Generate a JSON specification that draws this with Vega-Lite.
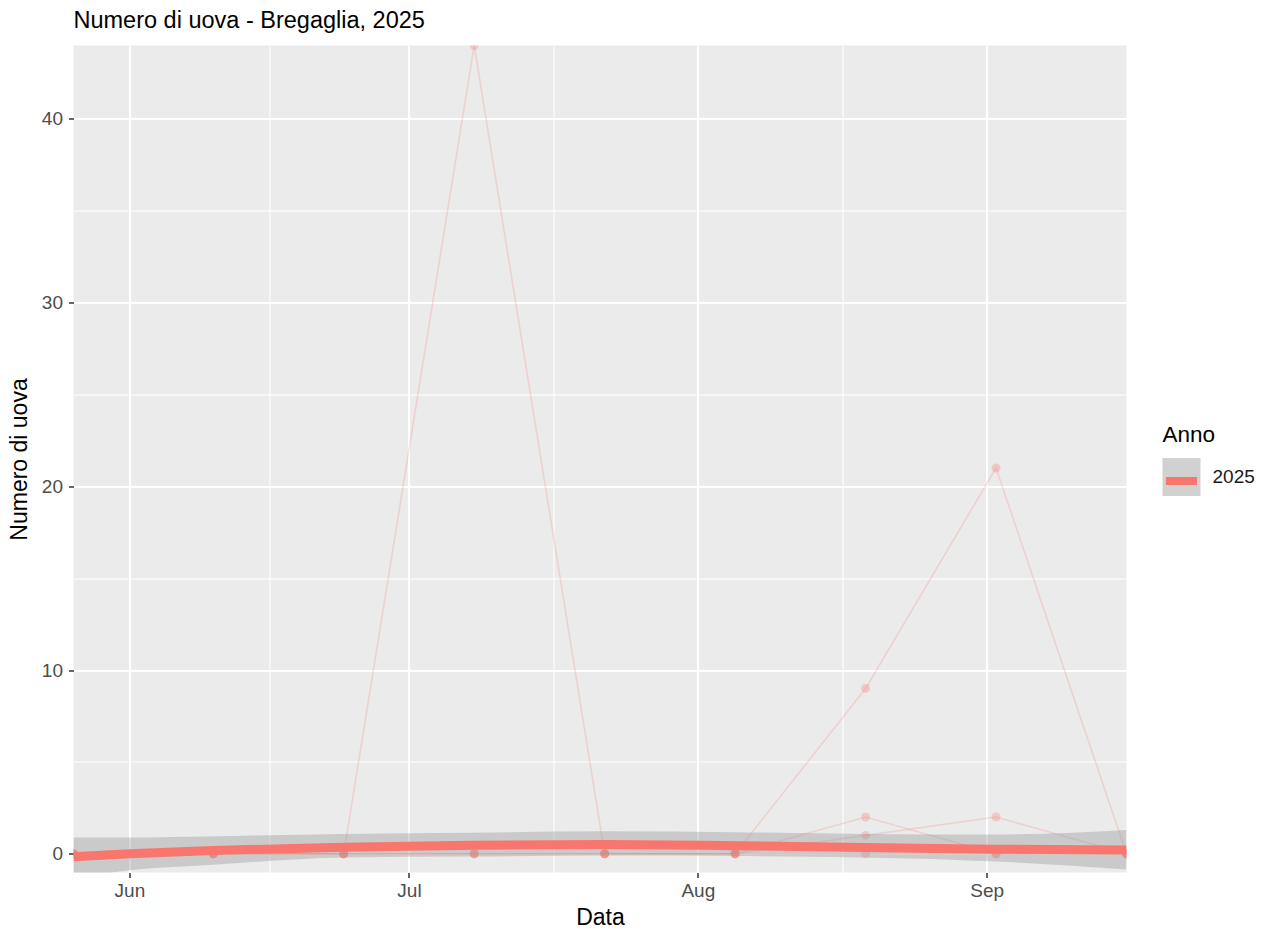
{
  "$schema": "https://vega.github.io/schema/vega-lite/v6.json",
  "width": 1053,
  "height": 827,
  "padding": {"left": 7.5, "top": 8.5, "right": 5, "bottom": 5},
  "background": "white",
  "title": {"text": "Numero di uova - Bregaglia, 2025", "anchor": "start", "frame": "group", "font": "Liberation Sans", "fontSize": 23.5, "fontWeight": "normal", "color": "black", "offset": 13},
  "config": {
    "view": {"fill": "#EBEBEB", "stroke": null},
    "font": "Liberation Sans",
    "axis": {"gridColor": "white", "gridWidth": 2, "gridOpacity": 1, "domain": false, "tickColor": "#333333", "tickSize": 5, "tickWidth": 1.5, "labelColor": "#4D4D4D", "labelFontSize": 19, "labelFont": "Liberation Sans", "titleFontSize": 23, "titleColor": "black", "titleFontWeight": "normal", "titleFont": "Liberation Sans"}
  },
  "datasets": {
    "obs": [
      {"Data": "2025-05-26", "Trappola": "A", "Uova": 0, "Anno": "2025"},
      {"Data": "2025-06-10", "Trappola": "A", "Uova": 0, "Anno": "2025"},
      {"Data": "2025-06-24", "Trappola": "A", "Uova": 0, "Anno": "2025"},
      {"Data": "2025-07-08", "Trappola": "A", "Uova": 44, "Anno": "2025"},
      {"Data": "2025-07-22", "Trappola": "A", "Uova": 0, "Anno": "2025"},
      {"Data": "2025-08-05", "Trappola": "A", "Uova": 0, "Anno": "2025"},
      {"Data": "2025-08-19", "Trappola": "A", "Uova": 0, "Anno": "2025"},
      {"Data": "2025-09-02", "Trappola": "A", "Uova": 0, "Anno": "2025"},
      {"Data": "2025-09-16", "Trappola": "A", "Uova": 0, "Anno": "2025"},
      {"Data": "2025-05-26", "Trappola": "B", "Uova": 0, "Anno": "2025"},
      {"Data": "2025-06-10", "Trappola": "B", "Uova": 0, "Anno": "2025"},
      {"Data": "2025-06-24", "Trappola": "B", "Uova": 0, "Anno": "2025"},
      {"Data": "2025-07-08", "Trappola": "B", "Uova": 0, "Anno": "2025"},
      {"Data": "2025-07-22", "Trappola": "B", "Uova": 0, "Anno": "2025"},
      {"Data": "2025-08-05", "Trappola": "B", "Uova": 0, "Anno": "2025"},
      {"Data": "2025-08-19", "Trappola": "B", "Uova": 9, "Anno": "2025"},
      {"Data": "2025-09-02", "Trappola": "B", "Uova": 21, "Anno": "2025"},
      {"Data": "2025-09-16", "Trappola": "B", "Uova": 0, "Anno": "2025"},
      {"Data": "2025-05-26", "Trappola": "C", "Uova": 0, "Anno": "2025"},
      {"Data": "2025-06-10", "Trappola": "C", "Uova": 0, "Anno": "2025"},
      {"Data": "2025-06-24", "Trappola": "C", "Uova": 0, "Anno": "2025"},
      {"Data": "2025-07-08", "Trappola": "C", "Uova": 0, "Anno": "2025"},
      {"Data": "2025-07-22", "Trappola": "C", "Uova": 0, "Anno": "2025"},
      {"Data": "2025-08-05", "Trappola": "C", "Uova": 0, "Anno": "2025"},
      {"Data": "2025-08-19", "Trappola": "C", "Uova": 2, "Anno": "2025"},
      {"Data": "2025-09-02", "Trappola": "C", "Uova": 0, "Anno": "2025"},
      {"Data": "2025-09-16", "Trappola": "C", "Uova": 0, "Anno": "2025"},
      {"Data": "2025-05-26", "Trappola": "D", "Uova": 0, "Anno": "2025"},
      {"Data": "2025-06-10", "Trappola": "D", "Uova": 0, "Anno": "2025"},
      {"Data": "2025-06-24", "Trappola": "D", "Uova": 0, "Anno": "2025"},
      {"Data": "2025-07-08", "Trappola": "D", "Uova": 0, "Anno": "2025"},
      {"Data": "2025-07-22", "Trappola": "D", "Uova": 0, "Anno": "2025"},
      {"Data": "2025-08-05", "Trappola": "D", "Uova": 0, "Anno": "2025"},
      {"Data": "2025-08-19", "Trappola": "D", "Uova": 1, "Anno": "2025"},
      {"Data": "2025-09-02", "Trappola": "D", "Uova": 2, "Anno": "2025"},
      {"Data": "2025-09-16", "Trappola": "D", "Uova": 0, "Anno": "2025"}
    ],
    "smooth": [
      {"Data": "2025-05-26", "fit": -0.16, "lo": -1.35, "hi": 0.89, "Anno": "2025"},
      {"Data": "2025-06-01", "fit": 0.0, "lo": -0.9, "hi": 0.88, "Anno": "2025"},
      {"Data": "2025-06-10", "fit": 0.18, "lo": -0.6, "hi": 0.95, "Anno": "2025"},
      {"Data": "2025-06-24", "fit": 0.36, "lo": -0.2, "hi": 1.08, "Anno": "2025"},
      {"Data": "2025-07-08", "fit": 0.47, "lo": -0.15, "hi": 1.15, "Anno": "2025"},
      {"Data": "2025-07-22", "fit": 0.5, "lo": -0.1, "hi": 1.22, "Anno": "2025"},
      {"Data": "2025-08-05", "fit": 0.44, "lo": -0.12, "hi": 1.17, "Anno": "2025"},
      {"Data": "2025-08-19", "fit": 0.34, "lo": -0.2, "hi": 1.08, "Anno": "2025"},
      {"Data": "2025-09-02", "fit": 0.25, "lo": -0.42, "hi": 1.05, "Anno": "2025"},
      {"Data": "2025-09-16", "fit": 0.2, "lo": -0.85, "hi": 1.3, "Anno": "2025"}
    ]
  },
  "resolve": {"axis": {"x": "independent", "y": "independent"}},
  "layer": [
    {
      "data": {"name": "obs"},
      "mark": {"type": "line", "color": "#F8766D", "opacity": 0.22, "strokeWidth": 1.6, "clip": true},
      "encoding": {
        "x": {"field": "Data", "type": "temporal",
          "scale": {"type": "utc", "domain": [{"year": 2025, "month": 5, "date": 26, "utc": true}, {"year": 2025, "month": 9, "date": 16, "utc": true}]},
          "axis": {"orient": "bottom", "title": null, "labels": false, "ticks": false, "domain": false, "grid": true, "gridWidth": 1,
            "values": [{"year": 2025, "month": 6, "date": 16, "utc": true}, {"year": 2025, "month": 7, "date": 16, "hours": 12, "utc": true}, {"year": 2025, "month": 8, "date": 16, "hours": 12, "utc": true}]}},
        "y": {"field": "Uova", "type": "quantitative",
          "scale": {"domain": [-1.02, 44], "nice": false, "zero": false},
          "axis": {"orient": "left", "title": null, "labels": false, "ticks": false, "domain": false, "grid": true, "gridWidth": 1, "values": [5, 15, 25, 35]}},
        "detail": {"field": "Trappola", "type": "nominal"}
      }
    },
    {
      "data": {"name": "obs"},
      "mark": {"type": "circle", "color": "#F8766D", "opacity": 0.3, "size": 80, "clip": true},
      "encoding": {
        "x": {"field": "Data", "type": "temporal",
          "axis": {"orient": "bottom", "title": "Data", "format": "%b", "grid": true, "gridWidth": 2, "labelPadding": 4, "titlePadding": 6,
            "values": [{"year": 2025, "month": 6, "date": 1, "utc": true}, {"year": 2025, "month": 7, "date": 1, "utc": true}, {"year": 2025, "month": 8, "date": 1, "utc": true}, {"year": 2025, "month": 9, "date": 1, "utc": true}]}},
        "y": {"field": "Uova", "type": "quantitative",
          "axis": {"orient": "left", "title": "Numero di uova", "grid": true, "gridWidth": 2, "values": [0, 10, 20, 30, 40], "labelPadding": 6, "titlePadding": 14.5, "minExtent": 28, "maxExtent": 28}}
      }
    },
    {
      "data": {"name": "smooth"},
      "mark": {"type": "area", "opacity": 0.4, "interpolate": "monotone", "clip": true},
      "encoding": {
        "x": {"field": "Data", "type": "temporal", "axis": null},
        "y": {"field": "lo", "type": "quantitative", "axis": null},
        "y2": {"field": "hi"},
        "fill": {"field": "Anno", "type": "nominal", "scale": {"domain": ["2025"], "range": ["#999999"]},
          "legend": {"orient": "none", "legendX": 1089, "legendY": 378, "title": "Anno", "titleFontSize": 22.5, "titleFontWeight": "normal", "titleColor": "black", "titlePadding": 12, "labelFontSize": 19, "labelColor": "#1A1A1A", "labelOffset": 12, "symbolType": "square", "symbolSize": 1444, "symbolOpacity": 0.45, "symbolStrokeWidth": 0}}
      }
    },
    {
      "data": {"name": "smooth"},
      "mark": {"type": "line", "strokeWidth": 9, "interpolate": "monotone", "clip": true},
      "encoding": {
        "x": {"field": "Data", "type": "temporal", "axis": null},
        "y": {"field": "fit", "type": "quantitative", "axis": null},
        "stroke": {"field": "Anno", "type": "nominal", "scale": {"range": ["#F8766D"]},
          "legend": {"orient": "none", "legendX": 1085, "legendY": 378, "title": " ", "titleFontSize": 22.5, "titleFontWeight": "normal", "titleColor": "transparent", "titlePadding": 12, "labelFontSize": 19, "labelExpr": "''", "labelOffset": 12, "symbolType": "M-0.82,0L0.82,0", "symbolSize": 1444, "symbolStrokeWidth": 8, "symbolOpacity": 1}}
      }
    }
  ]
}
